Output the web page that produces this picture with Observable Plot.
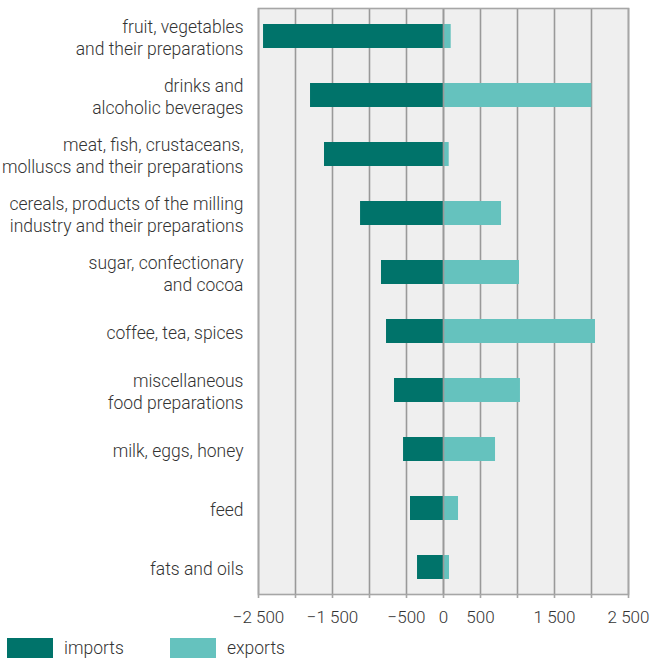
<!DOCTYPE html>
<html>
<head>
<meta charset="utf-8">
<script src="https://cdn.jsdelivr.net/npm/d3@7"></script>
<script src="https://cdn.jsdelivr.net/npm/@observablehq/plot@0.6"></script>
<style>
  html, body { margin: 0; padding: 0; background: #fff; }
  body { width: 651px; height: 658px; overflow: hidden; font-family: Roboto, sans-serif; color: #333; }
  #chart svg { display: block; }
  #legend { position: relative; height: 22px; }
  .item { position: absolute; top: 2px; display: flex; align-items: center; font-size: 17.5px; font-weight: 300; color: #333; }
  .sw { width: 46px; height: 20px; margin-right: 11px; }
</style>
</head>
<body>
<div id="chart"></div>
<div id="legend"></div>
<script>
const categories = [
  "fruit, vegetables\nand their preparations",
  "drinks and\nalcoholic beverages",
  "meat, fish, crustaceans,\nmolluscs and their preparations",
  "cereals, products of the milling\nindustry and their preparations",
  "sugar, confectionary\nand cocoa",
  "coffee, tea, spices",
  "miscellaneous\nfood preparations",
  "milk, eggs, honey",
  "feed",
  "fats and oils"
];
const imports = [-2432, -1797, -1608, -1121, -838, -770, -662, -540, -446, -351];
const exports = [104, 2004, 77, 784, 1027, 2054, 1040, 703, 203, 81];
const seriesNames = ["imports", "exports"];
const seriesColors = ["#00736a", "#65c2be"];
const xTicks = [-2500, -2000, -1500, -1000, -500, 0, 500, 1000, 1500, 2000, 2500];
const xLabeled = [-2500, -1500, -500, 0, 500, 1500, 2500];

const rows = [];
categories.forEach((c, i) => {
  rows.push({category: c, series: seriesNames[0], value: imports[i]});
  rows.push({category: c, series: seriesNames[1], value: exports[i]});
});

const loc = d3.formatLocale({decimal: ".", thousands: "\u00a0", grouping: [3], currency: ["", ""], minus: "\u2212"});
const fmt = loc.format(",d");

const chart = Plot.plot({
  width: 651,
  height: 636,
  marginTop: 8,
  marginBottom: 42,
  marginLeft: 258,
  marginRight: 23,
  style: {fontFamily: "Roboto, sans-serif", fontSize: "17px", color: "#333", fontWeight: 300},
  x: {domain: [-2500, 2500]},
  y: {domain: categories, paddingInner: 0.6, paddingOuter: 0.265},
  color: {domain: seriesNames, range: seriesColors},
  marks: [
    Plot.frame({fill: "#efefef", stroke: "none"}),
    Plot.gridX(xTicks, {stroke: "#999", strokeOpacity: 1, strokeWidth: 1.6}),
    Plot.barX(rows, {x1: 0, x2: "value", y: "category", fill: "series"}),
    Plot.ruleX([0], {stroke: "#999", strokeWidth: 1.6}),
    Plot.frame({stroke: "#a6a6a6", strokeWidth: 1.6}),
    Plot.axisX({
      ticks: xTicks,
      tickSize: 4,
      tickPadding: 12,
      stroke: "#a6a6a6",
      strokeWidth: 1.6,
      fontSize: 17,
      tickFormat: d => xLabeled.includes(d) ? fmt(d) : "",
      label: null
    }),
    Plot.axisY({
      tickSize: 0,
      tickPadding: 15,
      fontSize: 17.5,
      lineHeight: 1.26,
      textOverflow: null,
      label: null
    })
  ]
});
document.getElementById("chart").appendChild(chart);

const legend = document.getElementById("legend");
seriesNames.forEach((name, i) => {
  const item = document.createElement("div");
  item.className = "item";
  item.style.left = (7 + i * 163) + "px";
  const sw = document.createElement("div");
  sw.className = "sw";
  sw.style.background = seriesColors[i];
  const t = document.createElement("span");
  t.textContent = name;
  item.appendChild(sw);
  item.appendChild(t);
  legend.appendChild(item);
});
</script>
</body>
</html>
